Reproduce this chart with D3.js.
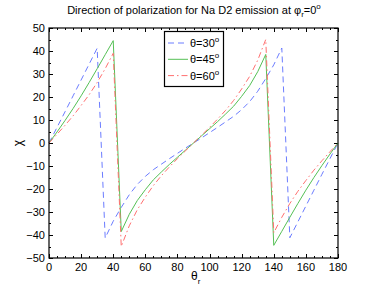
<!DOCTYPE html>
<html>
<head>
<meta charset="utf-8">
<script src="https://cdn.jsdelivr.net/npm/d3@7"></script>
<style>
  body { margin: 0; background: #fff; }
  text { font-family: "Liberation Sans", Arial, sans-serif; }
</style>
</head>
<body>
<svg id="chart" width="374" height="291"></svg>
<script>
// theta_r sample points (deg)
var thetaR = [0,5,10,15,20,25,30,35,40,45,50,55,60,65,70,75,80,85,90,
  95,100,105,110,115,120,125,130,135,140,145,150,155,160,165,170,175,180];

// chi values
var chi30 = [0,6.8,13.6,20.5,27.4,34.3,41.2,-41.3,-34,-28,-22.5,-18,-14.5,-11.6,-9.2,-6.8,-4.5,-2.2,0,
  2.2,4.5,6.8,9.2,11.6,14.5,18,22.5,28,34,41.3,-41.2,-34.3,-27.4,-20.5,-13.6,-6.8,0];
var chi45 = [0,4.8,9.8,15,20.5,26.3,32.3,38.4,44.5,-38.5,-31,-25,-20.3,-16,-12.6,-9.3,-6.2,-3.1,0,
  3.1,6.2,9.3,12.6,16,20.3,25,31,38.5,-44.5,-38.4,-32.3,-26.3,-20.5,-15,-9.8,-4.8,0];
var chi60 = [0,3.8,7.7,11.8,16.3,21,26.3,32.3,39,-45,-36,-29,-23.5,-18.5,-14.2,-10.4,-6.8,-3.4,0,
  3.4,6.8,10.4,14.2,18.5,23.5,29,36,45,-39,-32.3,-26.3,-21,-16.3,-11.8,-7.7,-3.8,0];

var seriesNames = ["30", "45", "60"];
var xTicks = [0,20,40,60,80,100,120,140,160,180];
var yTicks = [-50,-40,-30,-20,-10,0,10,20,30,40,50];

var plotL = 49, plotR = 338, plotT = 28, plotB = 258;
var svg = d3.select("#chart");

var x = d3.scaleLinear().domain([0, 180]).range([plotL, plotR]);
var y = d3.scaleLinear().domain([-50, 50]).range([plotB, plotT]);

// ticks (inward, box on)
var g = svg.append("g").attr("stroke", "#000").attr("stroke-width", 1);
d3.range(0, 181, 5).forEach(function(v) {
  var len = xTicks.indexOf(v) >= 0 ? 4 : 2;
  var px = Math.round(x(v)) + 0.5;
  g.append("line").attr("x1", px).attr("x2", px).attr("y1", plotB).attr("y2", plotB - len);
  g.append("line").attr("x1", px).attr("x2", px).attr("y1", plotT).attr("y2", plotT + len);
});
d3.range(-50, 51, 5).forEach(function(v) {
  var len = yTicks.indexOf(v) >= 0 ? 4 : 2;
  var py = Math.round(y(v)) + 0.5;
  g.append("line").attr("x1", plotL).attr("x2", plotL + len).attr("y1", py).attr("y2", py);
  g.append("line").attr("x1", plotR).attr("x2", plotR - len).attr("y1", py).attr("y2", py);
});

// tick labels
svg.append("g").selectAll("text").data(xTicks).enter().append("text")
  .attr("x", function(d) { return x(d); })
  .attr("y", 271)
  .attr("text-anchor", "middle")
  .attr("font-size", 11)
  .text(function(d) { return d; });
svg.append("g").selectAll("text").data(yTicks).enter().append("text")
  .attr("x", 45)
  .attr("y", function(d) { return y(d) + 4; })
  .attr("text-anchor", "end")
  .attr("font-size", 11)
  .text(function(d) { return d < 0 ? "\u2212" + (-d) : d; });

// curves
var line = d3.line()
  .x(function(d, i) { return x(thetaR[i]); })
  .y(function(d) { return y(d); });

var styles = [
  { data: chi30, color: "#6b7cff", dash: "6,4" },
  { data: chi45, color: "#55c055", dash: null },
  { data: chi60, color: "#ff7070", dash: "6,3,1.5,3" }
];

styles.forEach(function(s) {
  svg.append("path")
    .attr("d", line(s.data))
    .attr("fill", "none")
    .attr("stroke", s.color)
    .attr("stroke-width", 1)
    .attr("stroke-dasharray", s.dash);
});

// box
svg.append("rect")
  .attr("x", plotL).attr("y", plotT)
  .attr("width", plotR - plotL).attr("height", plotB - plotT)
  .attr("fill", "none").attr("stroke", "#000").attr("stroke-width", 1.2);

// legend
var lg = svg.append("g");
lg.append("rect")
  .attr("x", 164.5).attr("y", 31.5).attr("width", 59).attr("height", 55)
  .attr("fill", "#fff").attr("stroke", "#000").attr("stroke-width", 1.2);
styles.forEach(function(s, i) {
  var ly = 43 + i * 16.3;
  lg.append("line")
    .attr("x1", 168).attr("x2", 188).attr("y1", ly).attr("y2", ly)
    .attr("stroke", s.color).attr("stroke-width", 1)
    .attr("stroke-dasharray", s.dash);
  var t = lg.append("text").attr("x", 190).attr("y", ly + 4).attr("font-size", 11);
  t.append("tspan").text("\u03b8=" + seriesNames[i]);
  t.append("tspan").attr("font-size", 8).attr("dy", -5).text("o");
});

// title
var title = svg.append("text")
  .attr("x", 194).attr("y", 14)
  .attr("text-anchor", "middle")
  .attr("font-size", 11);
title.append("tspan").text("Direction of polarization for Na D2 emission at \u03c6");
title.append("tspan").attr("font-size", 8).attr("dy", 3).text("r");
title.append("tspan").attr("dy", -3).text("=0");
title.append("tspan").attr("font-size", 8).attr("dy", -5).text("o");

// axis labels
var xl = svg.append("text").attr("x", 191).attr("y", 280).attr("font-size", 12);
xl.append("tspan").text("\u03b8");
xl.append("tspan").attr("font-size", 8).attr("dy", 4).text("r");

svg.append("text")
  .attr("transform", "translate(22,143) rotate(-90)")
  .attr("text-anchor", "middle")
  .attr("font-size", 12)
  .text("\u03c7");
</script>
</body>
</html>
